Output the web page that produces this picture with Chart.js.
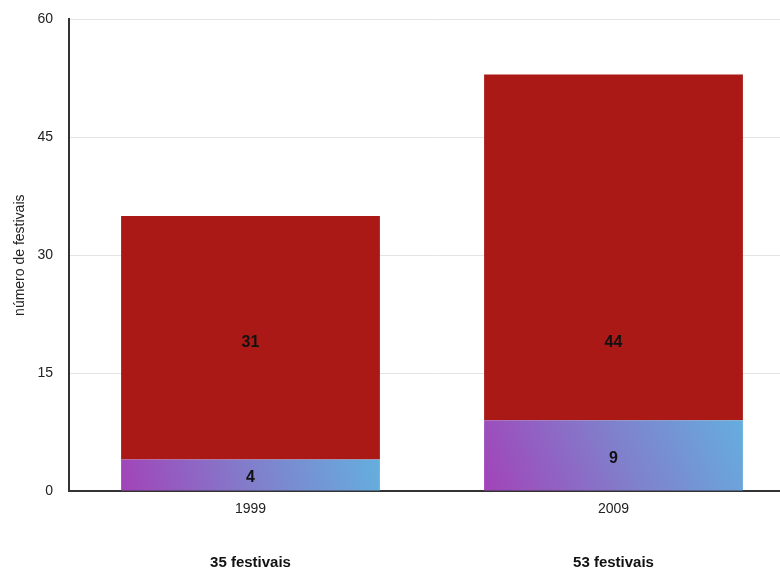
<!DOCTYPE html>
<html>
<head>
<meta charset="utf-8">
<script src="https://cdn.jsdelivr.net/npm/chart.js@4.4.1/dist/chart.umd.min.js"></script>
<style>
html,body{margin:0;padding:0;background:#fff;overflow:hidden;}
#wrap{position:absolute;left:0;top:-5px;width:800px;height:575px;}
</style>
</head>
<body>
<div id="wrap"><canvas id="c"></canvas></div>
<script>
const years = ["1999", "2009"];
const lowerValues = [4, 9];
const upperValues = [31, 44];
const totalLabels = ["35 festivais", "53 festivais"];
const yTicks = [0, 15, 30, 45, 60];
const yTitle = "número de festivais";

const FONT = "'Liberation Sans', Arial, Helvetica, sans-serif";

function gradientFor(ctx) {
  const chart = ctx.chart;
  const c = chart.ctx;
  if (!chart.chartArea || !chart.scales.x || !chart.scales.y) return '#8a78cc';
  const xs = chart.scales.x, ys = chart.scales.y;
  const w = xs.width / years.length * 0.713;
  const cx = xs.getPixelForValue(ctx.dataIndex);
  const v = lowerValues[ctx.dataIndex];
  const x0 = cx - w / 2, x1 = cx + w / 2;
  const y0 = ys.getPixelForValue(0), y1 = ys.getPixelForValue(v);
  const g = c.createLinearGradient(x0, y0, x1, y1 - (x1 - x0) * 0.15);
  g.addColorStop(0, '#a243b9');
  g.addColorStop(0.5, '#8080cc');
  g.addColorStop(1, '#62b3e0');
  return g;
}

const labelPlugin = {
  id: 'segLabels',
  afterDatasetsDraw(chart) {
    const c = chart.ctx;
    c.save();
    c.font = "bold 16px " + FONT;
    c.fillStyle = '#111';
    c.textAlign = 'center';
    c.textBaseline = 'middle';
    chart.data.datasets.forEach((ds, di) => {
      const meta = chart.getDatasetMeta(di);
      const mids = meta.data.map(bar => (bar.y + bar.base) / 2);
      const shared = Math.max(...mids);
      meta.data.forEach((bar, i) => {
        const y = di === 1 ? shared + 5 : mids[i] + 3;
        c.fillText(String(ds.data[i]), bar.x, y);
      });
    });
    c.restore();
  }
};

new Chart(document.getElementById('c'), {
  type: 'bar',
  data: {
    labels: years,
    datasets: [
      { label: 'a', data: lowerValues, backgroundColor: gradientFor, borderWidth: 0, barPercentage: 0.713, categoryPercentage: 1 },
      { label: 'b', data: upperValues, backgroundColor: '#ab1917', borderWidth: 0, barPercentage: 0.713, categoryPercentage: 1 }
    ]
  },
  options: {
    responsive: true,
    maintainAspectRatio: false,
    animation: false,
    layout: { padding: { top: 3, right: 5, left: 12, bottom: 0 } },
    plugins: { legend: { display: false }, tooltip: { enabled: false } },
    scales: {
      x: {
        stacked: true,
        grid: { display: false },
        border: { display: true, color: '#333', width: 2 },
        ticks: { color: '#222', font: { family: FONT, size: 14 }, padding: 2 },
        afterFit(axis) { axis.height = 30; }
      },
      x2: {
        type: 'category',
        position: 'bottom',
        labels: totalLabels,
        grid: { display: false, drawTicks: false },
        border: { display: false },
        ticks: { color: '#111', font: { family: FONT, size: 15, weight: 'bold' }, padding: 33 },
        afterFit(axis) { axis.height = 49; }
      },
      y: {
        stacked: true,
        min: 0,
        max: 60,
        afterBuildTicks(axis) { axis.ticks = yTicks.map(v => ({ value: v })); },
        grid: { color: '#e4e4e4', drawTicks: false },
        border: { display: true, color: '#333', width: 2 },
        ticks: { color: '#222', font: { family: FONT, size: 14 }, padding: 16 },
        title: { display: true, text: yTitle, color: '#222', font: { family: FONT, size: 14 }, padding: 0 },
        afterFit(axis) { axis.width = 57; }
      }
    }
  },
  plugins: [labelPlugin]
});
</script>
</body>
</html>
